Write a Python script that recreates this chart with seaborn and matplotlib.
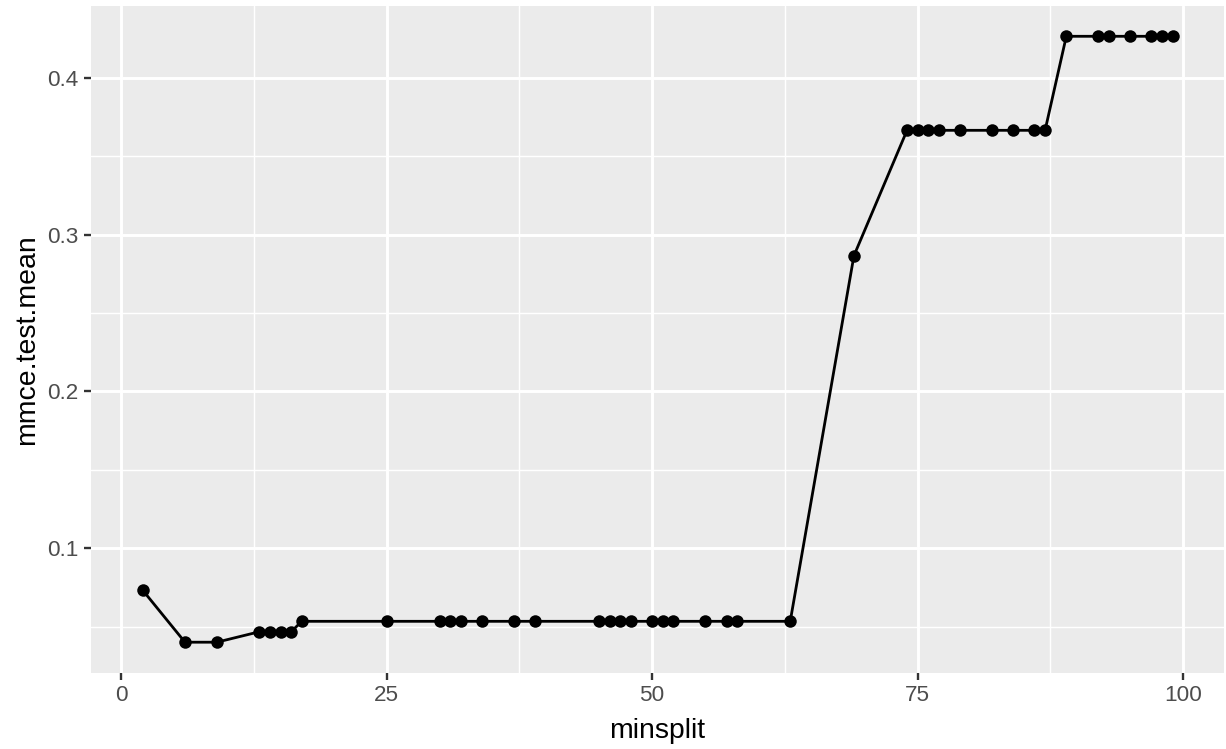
import matplotlib
matplotlib.use("Agg")
import matplotlib.pyplot as plt
import seaborn as sns
import pandas as pd
from matplotlib.ticker import MultipleLocator

# Tuning results: minsplit vs. mean test misclassification error
minsplit = [2, 6, 9, 13, 14, 15, 16, 17, 25, 30, 31, 32, 34, 37, 39,
            45, 46, 47, 48, 50, 51, 52, 55, 57, 58, 63, 69,
            74, 75, 76, 77, 79, 82, 84, 86, 87,
            89, 92, 93, 95, 97, 98, 99]
mmce = [11/150, 6/150, 6/150, 7/150, 7/150, 7/150, 7/150, 8/150, 8/150, 8/150,
        8/150, 8/150, 8/150, 8/150, 8/150,
        8/150, 8/150, 8/150, 8/150, 8/150, 8/150, 8/150, 8/150, 8/150, 8/150,
        8/150, 43/150,
        55/150, 55/150, 55/150, 55/150, 55/150, 55/150, 55/150, 55/150, 55/150,
        64/150, 64/150, 64/150, 64/150, 64/150, 64/150, 64/150]

x_ticks = [0, 25, 50, 75, 100]
y_ticks = [0.1, 0.2, 0.3, 0.4]

df = pd.DataFrame({"minsplit": minsplit, "mmce.test.mean": mmce})

sns.set_theme(style="darkgrid")
plt.rcParams["font.family"] = ["Liberation Sans", "DejaVu Sans"]

W, H = 1226, 749
fig = plt.figure(figsize=(W / 100, H / 100), dpi=100)
ax = fig.add_axes([91 / W, 1 - 672.5 / H, (1224 - 91) / W, (672.5 - 6) / H])
ax.set_facecolor("#EBEBEB")

sns.lineplot(data=df, x="minsplit", y="mmce.test.mean", ax=ax,
             color="black", linewidth=2.0, marker="o", markersize=9,
             markeredgewidth=0, estimator=None, sort=True)

# ggplot-style 5% expansion of the data range
xr = max(minsplit) - min(minsplit)
yr = max(mmce) - min(mmce)
ax.set_xlim(min(minsplit) - 0.05 * xr, max(minsplit) + 0.05 * xr)
ax.set_ylim(min(mmce) - 0.05 * yr, max(mmce) + 0.05 * yr)

ax.set_xticks(x_ticks)
ax.set_xticklabels([str(t) for t in x_ticks])
ax.set_yticks(y_ticks)
ax.set_yticklabels([f"{t:.1f}" for t in y_ticks])
ax.xaxis.set_minor_locator(MultipleLocator(12.5))
ax.yaxis.set_minor_locator(MultipleLocator(0.05))

ax.grid(which="major", color="white", linewidth=2.1)
ax.grid(which="minor", color="white", linewidth=1.05)
ax.set_axisbelow(True)
for s in ax.spines.values():
    s.set_visible(False)

ax.tick_params(axis="both", which="major", length=5, width=1.7, color="#333333",
               labelcolor="#4D4D4D", labelsize=16.2, pad=4, bottom=True, left=True)
ax.tick_params(axis="both", which="minor", length=0)

ax.set_xlabel("minsplit", fontsize=20.4, color="black", labelpad=9)
ax.set_ylabel("mmce.test.mean", fontsize=20.4, color="black", labelpad=5)

fig.savefig("out.png", dpi=100, facecolor="white")
